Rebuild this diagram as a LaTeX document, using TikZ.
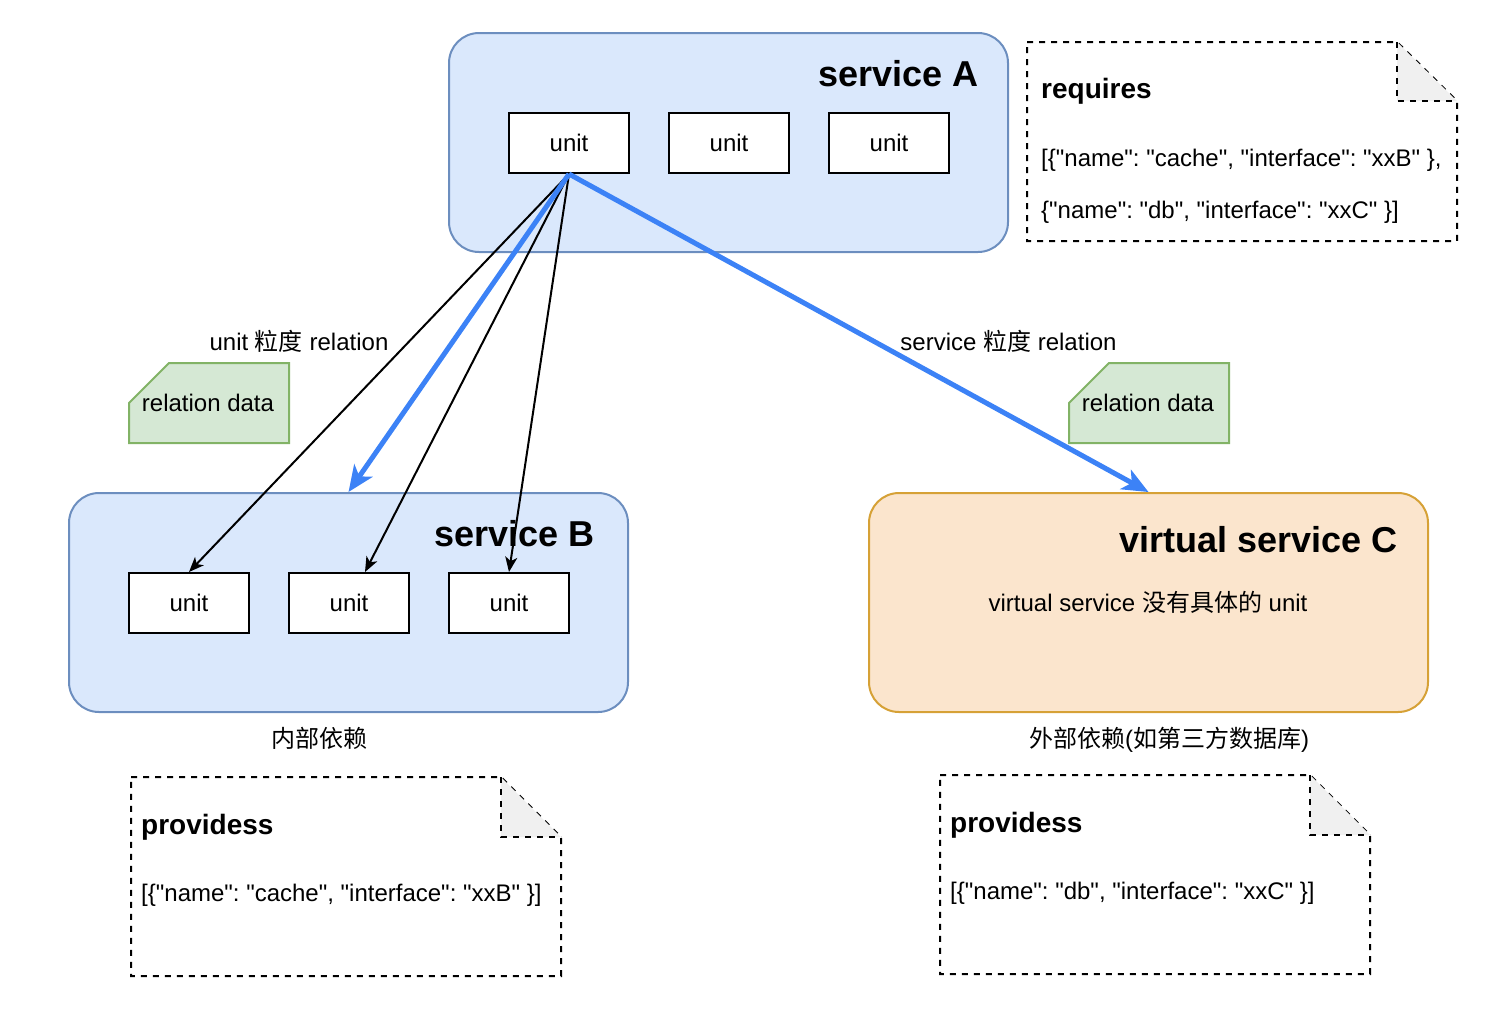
\documentclass[tikz,border=0pt]{standalone}
\usepackage{fontspec}
\setmainfont{Liberation Sans}[Ligatures=TeXOff]
\newfontfamily\cjk{Noto Sans CJK SC}
\usetikzlibrary{arrows.meta}
\definecolor{bfill}{HTML}{DAE8FC}
\definecolor{bstroke}{HTML}{6C8EBF}
\definecolor{ofill}{HTML}{FBE5CD}
\definecolor{ostroke}{HTML}{D6A136}
\definecolor{gfill}{HTML}{D5E8D4}
\definecolor{gstroke}{HTML}{82B366}
\definecolor{bluearrow}{HTML}{3C82F6}
\definecolor{foldgray}{HTML}{F0F0F0}
\frenchspacing
\begin{document}
\begin{tikzpicture}[x=1pt,y=-1pt,
  svc/.style={draw=bstroke,fill=bfill,line width=2pt,rounded corners=30pt,minimum width=559pt,minimum height=219pt,inner sep=0pt},
  vsvc/.style={svc,draw=ostroke,fill=ofill},
  unitbox/.style={draw=black,fill=white,line width=2pt,minimum width=120pt,minimum height=60pt,inner sep=0pt,font=\fontsize{24}{29}\selectfont},
  title/.style={font=\fontsize{36}{43}\selectfont\bfseries,inner sep=0pt,anchor=base east},
  lbl/.style={font=\fontsize{24}{29}\selectfont,inner sep=0pt,anchor=base},
  notetxt/.style={font=\fontsize{24}{29}\selectfont,inner sep=0pt,anchor=base west},
  notehead/.style={font=\fontsize{28}{34}\selectfont\bfseries,inner sep=0pt,anchor=base west},
  notebox/.style={draw=black,fill=white,line width=2pt,dash pattern=on 6pt off 6pt},
  foldbox/.style={draw=black,fill=foldgray,line width=2pt,dash pattern=on 6pt off 6pt},
  card/.style={draw=gstroke,fill=gfill,line width=2pt},
  blk/.style={draw=black,line width=2pt,-{Stealth[length=15pt,width=12pt,inset=4pt]}},
  blu/.style={draw=bluearrow,line width=5pt,-{Stealth[length=26pt,width=22pt,inset=7pt]}}
]
\useasboundingbox (0,0) rectangle (1512,1026);

% services
\node[svc] (A) at (728.5,142.5) {};
\node[title] (At) at (979,86) {service A};
\node[unitbox] (A1) at (569,143) {unit};
\node[unitbox] (A2) at (729,143) {unit};
\node[unitbox] (A3) at (889,143) {unit};

\node[svc] (B) at (348.5,602.5) {};
\node[title] (Bt) at (595,546) {service B};
\node[unitbox] (B1) at (189,603) {unit};
\node[unitbox] (B2) at (349,603) {unit};
\node[unitbox] (B3) at (509,603) {unit};

\node[vsvc] (C) at (1148.5,602.5) {};
\node[title] (Ct) at (1398,552) {virtual service C};
\node[lbl] (Cx) at (1148,611) {virtual service {\cjk 没有具体的} unit};

\node[lbl] (Bl) at (319.5,747) {\cjk 内部依赖};
\node[lbl] (Cl) at (1169,747) {{\cjk 外部依赖}({\cjk 如第三方数据库})};

% requires note
\coordinate (r1) at (1027,42);
\coordinate (r2) at (1397,42);
\coordinate (r3) at (1457,101);
\coordinate (r4) at (1457,241);
\coordinate (r5) at (1027,241);
\coordinate (rf) at (1397,101);
\draw[notebox] (r1) -- (r2) -- (r3) -- (r4) -- (r5) -- cycle;
\draw[foldbox] (r2) -- (rf) -- (r3);
\node[notehead] (rh) at (1041,98) {requires};
\node[notetxt] (rl1) at (1041,166) {[\{"name": "cache", "interface": "xxB" \},};
\node[notetxt] (rl2) at (1041,218) {\{"name": "db", "interface": "xxC" \}]};

% provides note left
\coordinate (p1) at (131,777);
\coordinate (p2) at (501,777);
\coordinate (p3) at (561,837);
\coordinate (p4) at (561,976);
\coordinate (p5) at (131,976);
\coordinate (pf) at (501,837);
\draw[notebox] (p1) -- (p2) -- (p3) -- (p4) -- (p5) -- cycle;
\draw[foldbox] (p2) -- (pf) -- (p3);
\node[notehead] (ph) at (141,834) {providess};
\node[notetxt] (pl) at (141,901) {[\{"name": "cache", "interface": "xxB" \}]};

% provides note right
\coordinate (q1) at (940,775);
\coordinate (q2) at (1310,775);
\coordinate (q3) at (1370,835);
\coordinate (q4) at (1370,974);
\coordinate (q5) at (940,974);
\coordinate (qf) at (1310,835);
\draw[notebox] (q1) -- (q2) -- (q3) -- (q4) -- (q5) -- cycle;
\draw[foldbox] (q2) -- (qf) -- (q3);
\node[notehead] (qh) at (950,832) {providess};
\node[notetxt] (ql) at (950,899) {[\{"name": "db", "interface": "xxC" \}]};

% relation data cards
\draw[card] (169,363) -- (289,363) -- (289,443) -- (129,443) -- (129,403) -- cycle;
\node[lbl,anchor=center] (d1) at (208,403) {relation data};
\draw[card] (1109,363) -- (1229,363) -- (1229,443) -- (1069,443) -- (1069,403) -- cycle;
\node[lbl,anchor=center] (d2) at (1148,403) {relation data};

% edge labels
\node[lbl] (u1) at (299,350) {unit {\cjk 粒度} relation};
\node[lbl] (s1) at (1008.5,350) {service {\cjk 粒度} relation};

% connectors
\coordinate (B2in) at ([xshift=16pt]B2.north);
\draw[blk] (A1.south) -- (B1.north);
\draw[blk] (A1.south) -- (B2in);
\draw[blk] (A1.south) -- (B3.north);
\draw[blu] (A1.south) -- (B.north);
\draw[blu] (A1.south) -- (C.north);
\end{tikzpicture}
\end{document}
